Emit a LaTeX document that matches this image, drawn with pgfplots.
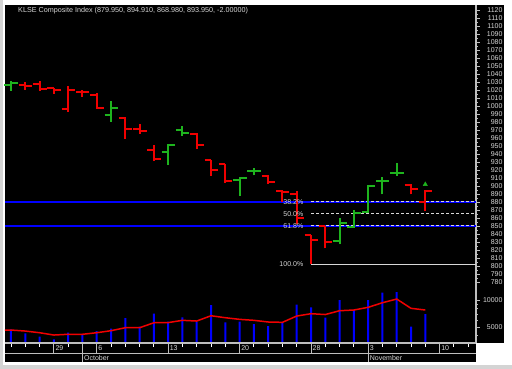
\documentclass[border=0pt]{standalone}
\usepackage{pgfplots}
\pgfplotsset{compat=1.18}
\usepackage{pgfplotstable}
\usepackage{fontspec}
\setmainfont{Liberation Sans}

\definecolor{barred}{RGB}{240,0,0}
\definecolor{bargreen}{RGB}{30,180,30}
\definecolor{txt}{RGB}{215,215,215}
\definecolor{axgray}{RGB}{190,190,190}
\definecolor{volblue}{RGB}{0,0,255}
\definecolor{fibblue}{RGB}{0,0,255}
\definecolor{framegray}{RGB}{212,212,212}

\pgfdeclareplotmark{otick}{\pgfpathmoveto{\pgfqpoint{-6.5pt}{0pt}}\pgfpathlineto{\pgfqpoint{0pt}{0pt}}\pgfusepathqstroke}
\pgfdeclareplotmark{ctick}{\pgfpathmoveto{\pgfqpoint{0pt}{0pt}}\pgfpathlineto{\pgfqpoint{7pt}{0pt}}\pgfusepathqstroke}

% open / close of green bars
\pgfplotstableread{
i  o      c
0  1026   1029
7  989    997.5
11 942    951.6
12 970    966.6
16 907.5  910.4
17 919    919.1
23 831.6  854
24 848.4  866
25 868    900.4
26 906.7  906.7
27 915.8  915.8
}\greenbars

% open / close of red bars
\pgfplotstableread{
i  o      c
1  1026.7 1025.4
2  1027.5 1021
3  1023   1020
4  996.2  1019.6
5  1017.5 1017.5
6  1014   997.5
8  985    971
9  971.6  969
10 945.4  934
13 965    950.9
14 932.5  920.4
15 927    906
18 912.5  905.4
19 893.4  892
20 890    859.6
21 838.75 833
22 850    830.5
28 901    895.95
29 879.95 893.95
}\redbars

% volume
\pgfplotstableread{
i  v
0  4715
1  4250
2  3900
3  3640
4  4320
5  4070
6  4510
7  4790
8  6300
9  5040
10 7040
11 5730
12 6410
13 5730
14 8800
15 5630
16 5730
17 5400
18 5130
19 5590
20 8900
21 8290
22 6360
23 10000
24 7740
25 10000
26 12060
27 12280
28 5040
29 6980
}\vol

% volume moving average
\pgfplotstableread{
i     m
-0.42 4630
0     4630
1     4510
2     4320
3     4070
4     4150
5     4150
6     4320
7     4550
8     4910
9     4910
10    5580
11    5600
12    5940
13    5830
14    6680
15    6350
16    6090
17    5940
18    5690
19    5640
20    6630
21    7040
22    6890
23    7600
24    7740
25    8290
26    9330
27    10260
28    8080
29    7740
}\volma

\begin{document}
\begin{tikzpicture}[x=1pt,y=1pt]
\fill[white] (0,0) rectangle (512,369);
\fill[framegray] (0,0) rectangle (3,369);
\fill[framegray] (0,0) rectangle (512,4);
\fill[black] (5,26) rectangle (504,364);
\fill[black] (5,7) rectangle (476,26);

% volume panel
\begin{axis}[at={(5pt,26pt)}, anchor=south west, scale only axis,
  width=471pt, height=338pt,
  xmin=-0.42, xmax=32.55, ymode=log, ymin=3319, ymax=19470000,
  hide x axis, axis y line*=right,
  axis line style={-, axgray, line width=1.2pt},
  ytick={5000,10000}, yticklabels={5000,10000},
  minor ytick={4000,6000,7000,8000,9000},
  tick align=outside, major tick length=4pt, minor tick length=2pt,
  y tick style={axgray, line width=0.8pt},
  yticklabel style={anchor=east, inner sep=0pt, xshift=22.7pt,
    font=\fontsize{7}{7}\selectfont, text=txt}]
\addplot[ybar, bar width=2pt, fill=volblue, draw=none]
  table[x=i, y=v]{\vol};
\addplot[barred, line width=1.5pt] table[x=i, y=m]{\volma};
\end{axis}

% price panel
\begin{axis}[at={(5pt,26pt)}, anchor=south west, scale only axis,
  width=471pt, height=338pt,
  xmin=-0.42, xmax=32.55, ymin=703.75, ymax=1126.25,
  axis x line*=bottom, axis y line*=right,
  axis line style={-, axgray, line width=1.2pt},
  xtick={0,1,2,4,7,8,9,10,12,13,14,15,17,18,19,20,22,23,24,26,27,28,29,31,32},
  xticklabels={},
  ytick={780,790,...,1120}, minor ytick={785,795,...,1115},
  tick align=outside, major tick length=4pt, minor tick length=2pt,
  x tick style={white, line width=0.8pt},
  y tick style={axgray, line width=0.8pt},
  yticklabel style={anchor=east, inner sep=0pt, xshift=22.7pt,
    font=\fontsize{7}{7}\selectfont, text=txt,
    /pgf/number format/assume math mode=true,
    /pgf/number format/1000 sep={}},
  clip=false]

% Fibonacci / support lines
\addplot[fibblue, line width=2pt] coordinates {(-0.42,880.2) (32.55,880.2)};
\addplot[fibblue, line width=2pt] coordinates {(-0.42,850.3) (32.55,850.3)};
\addplot[txt, line width=1pt, dash pattern=on 3pt off 2pt] coordinates {(21,880.2) (32.55,880.2)};
\addplot[txt, line width=1pt, dash pattern=on 3pt off 2pt] coordinates {(21,865.25) (32.55,865.25)};
\addplot[txt, line width=1pt, dash pattern=on 3pt off 2pt] coordinates {(21,850.3) (32.55,850.3)};
\addplot[txt, line width=1pt] coordinates {(21,802) (32.55,802)};

% green bars: high-low
\addplot[bargreen, line width=2pt, unbounded coords=jump] coordinates {
(0,1019) (0,1031) (0,nan)
(7,980) (7,1006) (7,nan)
(11,926) (11,953) (11,nan)
(12,963) (12,975) (12,nan)
(16,888) (16,911.7) (16,nan)
(17,913.4) (17,922) (17,nan)
(23,827.5) (23,859.6) (23,nan)
(24,848) (24,870) (24,nan)
(25,866.6) (25,901) (25,nan)
(26,889.6) (26,911) (26,nan)
(27,912.9) (27,928.5)
};
\addplot[only marks, mark=ctick, mark options={solid, bargreen, line width=2pt}]
  table[x=i, y=c]{\greenbars};
\addplot[only marks, mark=otick, mark options={solid, bargreen, line width=2pt}]
  table[x=i, y=o]{\greenbars};

% red bars: high-low
\addplot[barred, line width=2pt, unbounded coords=jump] coordinates {
(1,1020) (1,1029.6) (1,nan)
(2,1019) (2,1031) (2,nan)
(3,1015) (3,1023) (3,nan)
(4,992.9) (4,1024.6) (4,nan)
(5,1011) (5,1020) (5,nan)
(6,996) (6,1016) (6,nan)
(8,959) (8,986) (8,nan)
(9,965) (9,977.5) (9,nan)
(10,931) (10,951) (10,nan)
(13,946) (13,966) (13,nan)
(14,912.5) (14,933) (14,nan)
(15,904) (15,927.5) (15,nan)
(18,902.5) (18,914) (18,nan)
(19,880.4) (19,895) (19,nan)
(20,852) (20,894) (20,nan)
(21,802) (21,838.75) (21,nan)
(22,822) (22,850) (22,nan)
(28,889.6) (28,902) (28,nan)
(29,868.98) (29,894.91)
};
\addplot[only marks, mark=ctick, mark options={solid, barred, line width=2pt}]
  table[x=i, y=c]{\redbars};
\addplot[only marks, mark=otick, mark options={solid, barred, line width=2pt}]
  table[x=i, y=o]{\redbars};

% pointer
\addplot[only marks, mark=triangle*, mark size=2.5pt, bargreen] coordinates {(29,902)};

% fib labels
\node[anchor=east, text=txt, inner sep=0pt, font=\fontsize{7}{7}\selectfont] at (axis cs:20.47,880.2) {38.2\%};
\node[anchor=east, text=txt, inner sep=0pt, font=\fontsize{7}{7}\selectfont] at (axis cs:20.47,865.25) {50.0\%};
\node[anchor=east, text=txt, inner sep=0pt, font=\fontsize{7}{7}\selectfont] at (axis cs:20.47,850.3) {61.8\%};
\node[anchor=east, text=txt, inner sep=0pt, font=\fontsize{7}{7}\selectfont] at (axis cs:20.47,802) {100.0\%};

% date strip
\draw[axgray, line width=1.2pt] (axis cs:-0.42,690.9) -- (axis cs:32.55,690.9);
\draw[axgray, line width=1pt] (axis cs:3,703.75) -- (axis cs:3,690.9);
\draw[axgray, line width=1pt] (axis cs:6,703.75) -- (axis cs:6,690.9);
\draw[axgray, line width=1pt] (axis cs:11,703.75) -- (axis cs:11,690.9);
\draw[axgray, line width=1pt] (axis cs:16,703.75) -- (axis cs:16,690.9);
\draw[axgray, line width=1pt] (axis cs:21,703.75) -- (axis cs:21,690.9);
\draw[axgray, line width=1pt] (axis cs:30,703.75) -- (axis cs:30,690.9);
\draw[axgray, line width=1pt] (axis cs:5,703.75) -- (axis cs:5,680);
\draw[axgray, line width=1pt] (axis cs:25,703.75) -- (axis cs:25,680);
\node[anchor=west, text=txt, inner sep=0pt, font=\fontsize{7}{7}\selectfont, xshift=1.5pt] at (axis cs:3,697) {29};
\node[anchor=west, text=txt, inner sep=0pt, font=\fontsize{7}{7}\selectfont, xshift=1.5pt] at (axis cs:6,697) {6};
\node[anchor=west, text=txt, inner sep=0pt, font=\fontsize{7}{7}\selectfont, xshift=1.5pt] at (axis cs:11,697) {13};
\node[anchor=west, text=txt, inner sep=0pt, font=\fontsize{7}{7}\selectfont, xshift=1.5pt] at (axis cs:16,697) {20};
\node[anchor=west, text=txt, inner sep=0pt, font=\fontsize{7}{7}\selectfont, xshift=1.5pt] at (axis cs:21,697) {28};
\node[anchor=west, text=txt, inner sep=0pt, font=\fontsize{7}{7}\selectfont, xshift=1.5pt] at (axis cs:25,697) {3};
\node[anchor=west, text=txt, inner sep=0pt, font=\fontsize{7}{7}\selectfont, xshift=1.5pt] at (axis cs:30,697) {10};
\node[anchor=west, text=txt, inner sep=0pt, font=\fontsize{7}{7}\selectfont, xshift=1.5pt] at (axis cs:5,685) {October};
\node[anchor=west, text=txt, inner sep=0pt, font=\fontsize{7}{7}\selectfont, xshift=1.5pt] at (axis cs:25,685) {November};
\end{axis}

\node[anchor=west, text=txt, inner sep=0pt, font=\fontsize{7.2}{7.2}\selectfont]
  at (18,358) {KLSE Composite Index (879.950, 894.910, 868.980, 893.950, -2.00000)};
\pgfresetboundingbox
\useasboundingbox (0,0) rectangle (512,369);
\end{tikzpicture}
\end{document}
